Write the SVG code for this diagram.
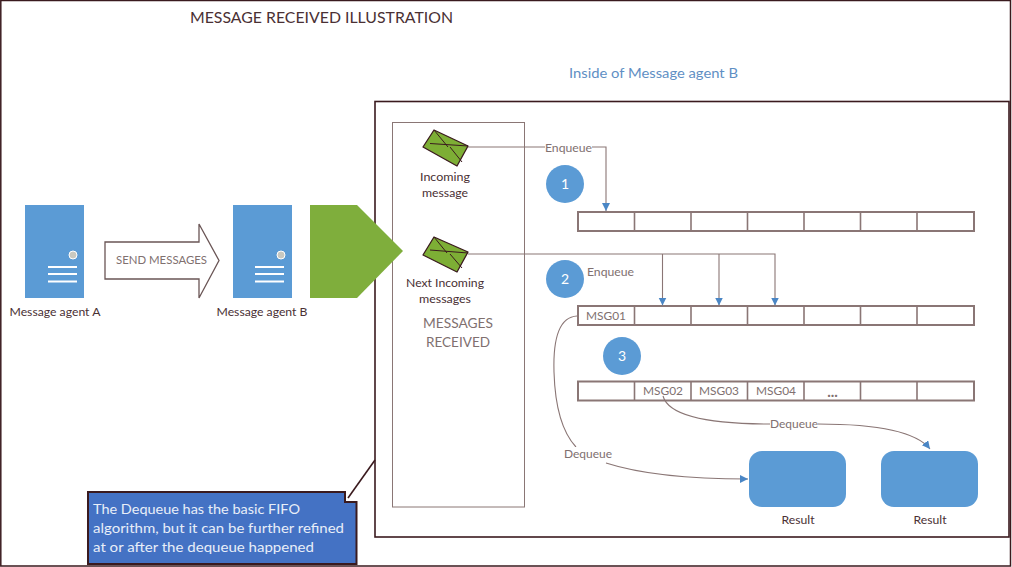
<svg xmlns="http://www.w3.org/2000/svg" width="1012" height="567" viewBox="0 0 1012 567">
<style>
text{font-family:"Lato","Open Sans","Liberation Sans",sans-serif;font-size:12px;fill:#4a3034;text-anchor:middle}
.g{fill:#80706f}
.w{fill:#fff;font-size:14px}
.blue{fill:#5b9bd5}
.srv{fill:#5b9bd5}
.bar{stroke:#fff;stroke-width:2}
.dot{fill:#c8c8c0;stroke:#fff;stroke-width:1}
.q{fill:#fff;stroke:#8a7675;stroke-width:2}
.d{stroke:#8a7675;stroke-width:1.6}
.env{fill:#7dae35;stroke:#3a1a1e;stroke-width:1.3;stroke-linejoin:round}
.envl{fill:none;stroke:#3a1a1e;stroke-width:1}
.c{fill:none;stroke:#8a7675;stroke-width:1.1}
.n{fill:#e8eef8;font-size:13px;text-anchor:start}
</style>
<defs>
<marker id="ah" markerWidth="9" markerHeight="9" refX="8" refY="4" orient="auto" markerUnits="userSpaceOnUse"><path d="M0 0L8 4L0 8Z" fill="#4a86c5"/></marker>
</defs>
<rect id="frame" x="0.800" y="0.500" width="1009.700" height="565.500" fill="#fff" stroke="#3a1a1e" stroke-width="1.500"/>
<text id="title" x="321.500" y="23" style="font-size:15px" textLength="263" lengthAdjust="spacingAndGlyphs">MESSAGE RECEIVED ILLUSTRATION</text>
<text id="inside-label" x="653.500" y="78" style="font-size:13px;fill:#5f8fc4" textLength="169" lengthAdjust="spacingAndGlyphs">Inside of Message agent B</text>
<rect id="inside-box" x="375" y="101.500" width="634" height="435.500" fill="#fff" stroke="#3a1a1e" stroke-width="1.600"/>
<g id="received-box">
<rect x="392.500" y="122.500" width="132" height="384.500" fill="#fff" stroke="#8a7675" stroke-width="1"/>
<text class="g" x="458" y="328" style="font-size:13px" textLength="70" lengthAdjust="spacingAndGlyphs">MESSAGES</text>
<text class="g" x="458" y="347" style="font-size:13px" textLength="64" lengthAdjust="spacingAndGlyphs">RECEIVED</text>
</g>
<g id="agent-a">
<rect class="srv" x="25" y="205" width="59" height="93"/>
<circle class="dot" cx="73" cy="255" r="4"/>
<path class="bar" d="M48 267H77M48 274H77M48 281.500H77"/>
<text x="55" y="316" style="font-size:11px" textLength="91" lengthAdjust="spacingAndGlyphs">Message agent A</text>
</g>
<g id="send-arrow">
<path d="M105 242H199V224L219 260.500L199 298V279H105Z" fill="#fff" stroke="#6a5555" stroke-width="1.300"/>
<text class="g" x="161.500" y="264" style="font-size:11px" textLength="91" lengthAdjust="spacingAndGlyphs">SEND MESSAGES</text>
</g>
<g id="agent-b">
<rect class="srv" x="233" y="205" width="59" height="93"/>
<circle class="dot" cx="281" cy="255" r="4"/>
<path class="bar" d="M255 267H284M255 274H284M255 281.500H284"/>
<text x="262" y="316" style="font-size:11px" textLength="91" lengthAdjust="spacingAndGlyphs">Message agent B</text>
</g>
<path id="green-pentagon" d="M310 205H357L403 251L357 298H310Z" fill="#7fae3c"/>
<g id="queue-1">
<rect class="q" x="578" y="212" width="396" height="19"/>
<path class="d" d="M634.500 212V231M691 212V231M747.500 212V231M804 212V231M860.500 212V231M917 212V231"/>
</g>
<g id="queue-2">
<rect class="q" x="578" y="306" width="396" height="19"/>
<path class="d" d="M634.500 306V325M691 306V325M747.500 306V325M804 306V325M860.500 306V325M917 306V325"/>
<text class="g" x="606" y="319.500" textLength="40" lengthAdjust="spacingAndGlyphs">MSG01</text>
</g>
<g id="queue-3">
<rect class="q" x="578" y="381.500" width="396" height="19"/>
<path class="d" d="M634.500 381V400M691 381V400M747.500 381V400M804 381V400M860.500 381V400M917 381V400"/>
<text class="g" x="663" y="395" textLength="40" lengthAdjust="spacingAndGlyphs">MSG02</text>
<text class="g" x="719" y="395" textLength="40" lengthAdjust="spacingAndGlyphs">MSG03</text>
<text class="g" x="776" y="395" textLength="40" lengthAdjust="spacingAndGlyphs">MSG04</text>
<text class="g" x="832.500" y="397" style="font-weight:700;font-size:15px">...</text>
</g>
<g id="connectors">
<path class="c" d="M468 147H606V211" marker-end="url(#ah)"/>
<path class="c" d="M468 254H775V305.500" marker-end="url(#ah)"/>
<path class="c" d="M662.500 254V305.500" marker-end="url(#ah)"/>
<path class="c" d="M719 254V305.500" marker-end="url(#ah)"/>
<path class="c" d="M577 316C558 317 553 340 554 372C555 405 562 432 576 447"/>
<path class="c" d="M606 463C640 474 690 479 748 479" marker-end="url(#ah)"/>
<path class="c" d="M663 396C668 414 700 424 770 424"/>
<path class="c" d="M818 424C870 424 915 430 930 449" marker-end="url(#ah)"/>
<rect x="545" y="141" width="47" height="13" fill="#fff"/>
<text class="g" x="568.500" y="152" textLength="47" lengthAdjust="spacingAndGlyphs">Enqueue</text>
<text class="g" x="610.500" y="276" textLength="47" lengthAdjust="spacingAndGlyphs">Enqueue</text>
<rect x="770" y="418" width="48" height="13" fill="#fff"/>
<text class="g" x="794" y="428" textLength="48" lengthAdjust="spacingAndGlyphs">Dequeue</text>
<rect x="564" y="447" width="48" height="13" fill="#fff"/>
<text class="g" x="588" y="458" textLength="48" lengthAdjust="spacingAndGlyphs">Dequeue</text>
</g>
<g id="incoming-message">
<path class="env" d="M434 130L468 146L457 166L423 147Z"/>
<path class="envl" d="M434 130L448 147M430 143.500L468 146M450 147L462 162"/>
<text x="445" y="181" textLength="50" lengthAdjust="spacingAndGlyphs">Incoming</text>
<text x="445" y="197" textLength="46" lengthAdjust="spacingAndGlyphs">message</text>
</g>
<g id="next-incoming">
<path class="env" d="M434 237L468 252L457 272L423 255Z"/>
<path class="envl" d="M434 237L447 253M430 250L468 253M450 254L462 268"/>
<text x="445" y="287" textLength="78" lengthAdjust="spacingAndGlyphs">Next Incoming</text>
<text x="445" y="303" textLength="52" lengthAdjust="spacingAndGlyphs">messages</text>
</g>
<g id="step-1"><circle class="blue" cx="565" cy="184" r="19"/><text class="w" x="565" y="189">1</text></g>
<g id="step-2"><circle class="blue" cx="565" cy="279" r="19"/><text class="w" x="565" y="284">2</text></g>
<g id="step-3"><circle class="blue" cx="622" cy="356" r="19"/><text class="w" x="622" y="361">3</text></g>
<g id="result-1"><rect class="blue" x="749" y="451" width="97" height="56" rx="13"/><text x="798" y="524" textLength="33" lengthAdjust="spacingAndGlyphs">Result</text></g>
<g id="result-2"><rect class="blue" x="881" y="451" width="97" height="56" rx="13"/><text x="930" y="524" textLength="33" lengthAdjust="spacingAndGlyphs">Result</text></g>
<g id="callout">
<path d="M88 492H345V502H356.500V564H88Z" fill="#4472c4" stroke="#3a1a1e" stroke-width="2"/>
<path d="M345 492V502H356.500" fill="none" stroke="#3a1a1e" stroke-width="2"/>
<path d="M348 498L375 460" fill="none" stroke="#3a1a1e" stroke-width="1.600"/>
<text class="n" x="93" y="514" textLength="207" lengthAdjust="spacingAndGlyphs">The Dequeue has the basic FIFO</text>
<text class="n" x="93" y="533" textLength="251" lengthAdjust="spacingAndGlyphs">algorithm, but it can be further refined</text>
<text class="n" x="93" y="552" textLength="221" lengthAdjust="spacingAndGlyphs">at or after the dequeue happened</text>
</g>
</svg>
